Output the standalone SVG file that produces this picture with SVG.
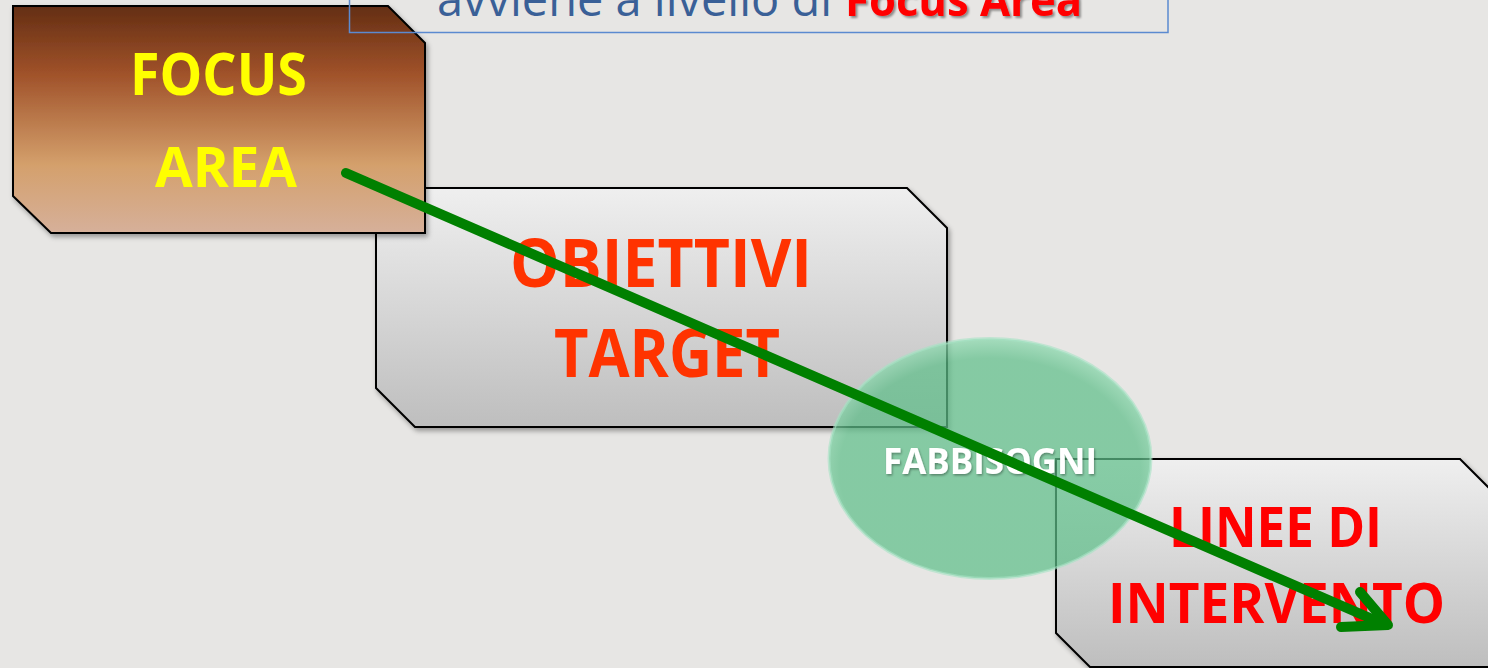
<svg xmlns="http://www.w3.org/2000/svg" width="1488" height="668" viewBox="0 0 1488 668">
<defs>
<linearGradient id="gBrown" x1="0" y1="0" x2="0" y2="1">
<stop offset="0" stop-color="#642e13"/>
<stop offset="0.3" stop-color="#a0522a"/>
<stop offset="0.7" stop-color="#d4a06c"/>
<stop offset="1" stop-color="#d6b09a"/>
</linearGradient>
<linearGradient id="gGray" x1="0" y1="0" x2="0" y2="1">
<stop offset="0" stop-color="#efefef"/>
<stop offset="1" stop-color="#bebebe"/>
</linearGradient>
<radialGradient id="gGreen" cx="0.5" cy="0.55" r="0.55">
<stop offset="0.85" stop-color="#5fbf8a" stop-opacity="0.72"/>
<stop offset="1" stop-color="#8fd9b0" stop-opacity="0.75"/>
</radialGradient>
<filter id="shadow" x="-5%" y="-5%" width="112%" height="115%">
<feDropShadow dx="2" dy="3" stdDeviation="2.5" flood-color="#000" flood-opacity="0.35"/>
</filter>
<filter id="tshadow" x="-5%" y="-10%" width="110%" height="130%">
<feDropShadow dx="2" dy="2" stdDeviation="1.2" flood-color="#000" flood-opacity="0.4"/>
</filter>
<filter id="wshadow" x="-5%" y="-10%" width="110%" height="130%">
<feDropShadow dx="1" dy="1.5" stdDeviation="1.2" flood-color="#000" flood-opacity="0.35"/>
</filter>
</defs>
<style>
.box{stroke:#000;stroke-width:2;stroke-linejoin:miter}
.big{font-family:"Open Sans","Liberation Sans",sans-serif;font-weight:bold}
.conn{fill:none;stroke:#008000;stroke-width:10;stroke-linecap:round;stroke-linejoin:round}
</style>
<rect x="0" y="0" width="1488" height="668" fill="#e7e6e4"/>

<g id="node-linee">
<path class="box" d="M1056,459 L1460,459 L1520,519 L1520,667 L1090,667 L1056,633 Z" fill="url(#gGray)" filter="url(#shadow)"/>
<text class="big" x="1169" y="547" font-size="56" fill="#ff0000" textLength="213" lengthAdjust="spacingAndGlyphs">LINEE DI</text>
<text class="big" x="1108" y="623" font-size="56" fill="#ff0000" textLength="337" lengthAdjust="spacingAndGlyphs">INTERVENTO</text>
</g>

<g id="node-obiettivi">
<path class="box" d="M376,188 L907,188 L947,228 L947,427 L415,427 L376,388 Z" fill="url(#gGray)" filter="url(#shadow)"/>
<text class="big" x="510" y="287" font-size="66" fill="#ff3300" textLength="302" lengthAdjust="spacingAndGlyphs">OBIETTIVI</text>
<text class="big" x="554" y="377" font-size="66" fill="#ff3300" textLength="226" lengthAdjust="spacingAndGlyphs">TARGET</text>
</g>

<g id="node-focus">
<path class="box" d="M13,6 L388,6 L425,43 L425,233 L51,233 L13,196 Z" fill="url(#gBrown)" filter="url(#shadow)"/>
<text class="big" x="130" y="95" font-size="59" fill="#ffff00" textLength="177" lengthAdjust="spacingAndGlyphs">FOCUS</text>
<text class="big" x="155" y="187" font-size="56" fill="#ffff00" textLength="142" lengthAdjust="spacingAndGlyphs">AREA</text>
</g>

<g id="node-fabbisogni">
<ellipse cx="990" cy="458.5" rx="161" ry="120" fill="url(#gGreen)" stroke="#a6e3c4" stroke-opacity="0.6" stroke-width="3"/>
<text class="big" x="883" y="474" font-size="35" fill="#ffffff" textLength="214" lengthAdjust="spacingAndGlyphs" filter="url(#wshadow)">FABBISOGNI</text>
</g>

<g id="node-title">
<rect x="349.5" y="-20" width="818.5" height="52.5" fill="none" stroke="#5b8ad0" stroke-width="1.5"/>
<text x="437" y="16" font-family="'Open Sans','Liberation Sans',sans-serif" font-size="47" fill="#3a6097" textLength="395" lengthAdjust="spacingAndGlyphs">avviene a livello di</text>
<text class="big" x="845" y="16" font-size="44" fill="#ff0000" textLength="237" lengthAdjust="spacingAndGlyphs" filter="url(#tshadow)">Focus Area</text>
</g>

<g id="connectors">
<line class="conn" x1="346" y1="173" x2="1386" y2="625"/>
<polyline class="conn" points="1360,592 1388,625 1341,627"/>
</g>
</svg>
